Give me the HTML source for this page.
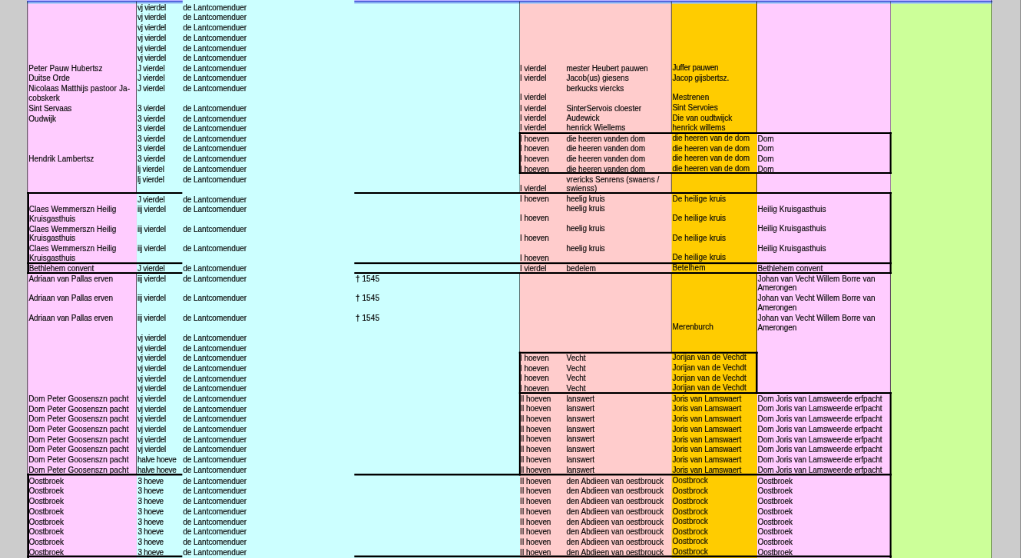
<!DOCTYPE html>
<html lang="nl"><head><meta charset="utf-8"><title>Overzicht</title>
<style>
html,body{margin:0;padding:0;background:#cccccc;}
html{overflow:hidden;}
body{width:1024px;height:558px;overflow:hidden;position:relative;}
#bg{position:absolute;left:0;top:0;width:1024px;height:558px;display:block;}
#tx{position:absolute;left:0;top:0;width:1333.3px;height:697.5px;overflow:hidden;transform:scale(0.768,0.8);transform-origin:0 0;will-change:transform;font-family:"Liberation Sans",Arial,sans-serif;font-size:10px;line-height:11px;color:#0a0a0a;}
#tx span{position:absolute;white-space:pre;-webkit-text-stroke:0.18px #0a0a0a;}
</style></head><body>
<svg id="bg" width="1024" height="558" viewBox="0 0 1024 558">
<rect x="0" y="0" width="1024" height="558" fill="#cccccc"/>
<rect x="27.3" y="0" width="109.5" height="558" fill="#ffccff"/>
<rect x="136.8" y="0" width="383.2" height="558" fill="#ccffff"/>
<rect x="520" y="0" width="151.7" height="558" fill="#ffcccc"/>
<rect x="671.7" y="0" width="85.4" height="558" fill="#ffcc00"/>
<rect x="757.1" y="0" width="133.9" height="558" fill="#ffccff"/>
<rect x="891" y="0" width="101" height="558" fill="#ccff99"/>
<rect x="1020" y="0" width="1" height="558" fill="#999999"/>
<rect x="1021" y="0" width="3" height="558" fill="#ffffff"/>
<rect x="27" y="0" width="155.7" height="1" fill="#b2aaff"/>
<rect x="27" y="1" width="155.7" height="1" fill="#5568dc"/>
<rect x="27" y="2" width="155.7" height="1" fill="#7fa8ee"/>
<rect x="27" y="3" width="155.7" height="1" fill="#9fc4f6" opacity="0.7"/>
<rect x="354.3" y="0" width="638.1" height="1" fill="#b2aaff"/>
<rect x="354.3" y="1" width="638.1" height="1" fill="#5568dc"/>
<rect x="354.3" y="2" width="638.1" height="1" fill="#7fa8ee"/>
<rect x="354.3" y="3" width="638.1" height="1" fill="#9fc4f6" opacity="0.7"/>
<rect x="27.3" y="1.5" width="0.8" height="191.5" fill="#000" opacity="0.62"/>
<rect x="27.3" y="273" width="0.8" height="201.6" fill="#000" opacity="0.62"/>
<rect x="136" y="1.5" width="0.8" height="191.5" fill="#000" opacity="0.62"/>
<rect x="136" y="273" width="0.8" height="201.6" fill="#000" opacity="0.62"/>
<rect x="519.2" y="1.5" width="0.8" height="131.6" fill="#000" opacity="0.62"/>
<rect x="519.2" y="173" width="0.8" height="20" fill="#000" opacity="0.35"/>
<rect x="519.2" y="273" width="0.8" height="79.7" fill="#000" opacity="0.62"/>
<rect x="670.9" y="1.5" width="0.8" height="131.6" fill="#000" opacity="0.62"/>
<rect x="670.9" y="173" width="0.8" height="20" fill="#000" opacity="0.62"/>
<rect x="670.9" y="273" width="0.8" height="79.7" fill="#000" opacity="0.62"/>
<rect x="756.3" y="1.5" width="0.8" height="131.6" fill="#000" opacity="0.62"/>
<rect x="756.3" y="173" width="0.8" height="20" fill="#000" opacity="0.62"/>
<rect x="756.3" y="273" width="0.8" height="79.7" fill="#000" opacity="0.62"/>
<rect x="890.2" y="1.5" width="0.8" height="131.6" fill="#000" opacity="0.45"/>
<rect x="890.2" y="173" width="0.8" height="20" fill="#000" opacity="0.45"/>
<rect x="889.95" y="273" width="1.05" height="120" fill="#000" opacity="0.62"/>
<rect x="991.2" y="0" width="0.8" height="558" fill="#000" opacity="0.45"/>
<rect x="518.9" y="132.2" width="372.6" height="1.8" fill="#000"/>
<rect x="518.9" y="172.1" width="372.6" height="1.8" fill="#000"/>
<rect x="27.2" y="192.1" width="155.1" height="1.8" fill="#000"/>
<rect x="354.3" y="192.1" width="537.2" height="1.8" fill="#000"/>
<rect x="27.2" y="262.3" width="155.1" height="1.8" fill="#000"/>
<rect x="354.3" y="262.3" width="537.2" height="1.8" fill="#000"/>
<rect x="27.2" y="272.1" width="155.1" height="1.8" fill="#000"/>
<rect x="354.3" y="272.1" width="537.2" height="1.8" fill="#000"/>
<rect x="27.2" y="473.7" width="155.1" height="1.8" fill="#000"/>
<rect x="354.3" y="473.7" width="537.2" height="1.8" fill="#000"/>
<rect x="27.2" y="555.5" width="155.1" height="1.8" fill="#000"/>
<rect x="354.3" y="555.5" width="537.2" height="1.8" fill="#000"/>
<rect x="518.9" y="351.8" width="238.7" height="1.8" fill="#000"/>
<rect x="518.9" y="392.1" width="372.6" height="1.8" fill="#000"/>
<rect x="27.2" y="192.1" width="1.8" height="81.8" fill="#000"/>
<rect x="27.2" y="473.7" width="1.8" height="84.3" fill="#000"/>
<rect x="518.9" y="132.2" width="1.8" height="41.7" fill="#000"/>
<rect x="518.9" y="351.8" width="1.8" height="123.7" fill="#000"/>
<rect x="755.8" y="351.8" width="1.8" height="42.1" fill="#000"/>
<rect x="889.7" y="132.2" width="1.8" height="41.7" fill="#000"/>
<rect x="889.7" y="192.1" width="1.8" height="81.8" fill="#000"/>
<rect x="889.7" y="392.1" width="1.8" height="165.9" fill="#000"/>
</svg>
<div id="tx">
<span style="left:37.24px;top:80px;letter-spacing:0.096px">Peter Pauw Hubertsz</span>
<span style="left:37.24px;top:92px;letter-spacing:0.032px">Duitse Orde</span>
<span style="left:37.24px;top:105px;letter-spacing:0.122px">Nicolaas Matthijs pastoor Ja-</span>
<span style="left:37.24px;top:117px;letter-spacing:0.058px">cobskerk</span>
<span style="left:37.24px;top:130px;letter-spacing:-0.065px">Sint Servaas</span>
<span style="left:37.24px;top:143px;letter-spacing:0.051px">Oudwijk</span>
<span style="left:37.24px;top:193px;letter-spacing:0.067px">Hendrik Lambertsz</span>
<span style="left:37.63px;top:256px;letter-spacing:0.082px">Claes Wemmerszn Heilig</span>
<span style="left:37.89px;top:268px;letter-spacing:0.009px">Kruisgasthuis</span>
<span style="left:37.63px;top:281px;letter-spacing:0.082px">Claes Wemmerszn Heilig</span>
<span style="left:37.89px;top:292px;letter-spacing:0.009px">Kruisgasthuis</span>
<span style="left:37.63px;top:305px;letter-spacing:0.082px">Claes Wemmerszn Heilig</span>
<span style="left:37.89px;top:317px;letter-spacing:0.009px">Kruisgasthuis</span>
<span style="left:37.63px;top:330px;letter-spacing:-0.053px">Bethlehem convent</span>
<span style="left:37.50px;top:343px;letter-spacing:-0.069px">Adriaan van Pallas erven</span>
<span style="left:37.50px;top:367px;letter-spacing:-0.069px">Adriaan van Pallas erven</span>
<span style="left:37.50px;top:392px;letter-spacing:-0.069px">Adriaan van Pallas erven</span>
<span style="left:37.24px;top:493px;letter-spacing:0.074px">Dom Peter Goosenszn pacht</span>
<span style="left:37.24px;top:506px;letter-spacing:0.074px">Dom Peter Goosenszn pacht</span>
<span style="left:37.24px;top:518px;letter-spacing:0.074px">Dom Peter Goosenszn pacht</span>
<span style="left:37.24px;top:531px;letter-spacing:0.074px">Dom Peter Goosenszn pacht</span>
<span style="left:37.24px;top:544px;letter-spacing:0.074px">Dom Peter Goosenszn pacht</span>
<span style="left:37.24px;top:556px;letter-spacing:0.074px">Dom Peter Goosenszn pacht</span>
<span style="left:37.24px;top:569px;letter-spacing:0.074px">Dom Peter Goosenszn pacht</span>
<span style="left:37.24px;top:582px;letter-spacing:0.074px">Dom Peter Goosenszn pacht</span>
<span style="left:37.50px;top:596px;letter-spacing:-0.077px">Oostbroek</span>
<span style="left:37.50px;top:608px;letter-spacing:-0.077px">Oostbroek</span>
<span style="left:37.50px;top:621px;letter-spacing:-0.077px">Oostbroek</span>
<span style="left:37.50px;top:634px;letter-spacing:-0.077px">Oostbroek</span>
<span style="left:37.50px;top:647px;letter-spacing:-0.077px">Oostbroek</span>
<span style="left:37.50px;top:659px;letter-spacing:-0.077px">Oostbroek</span>
<span style="left:37.50px;top:672px;letter-spacing:-0.077px">Oostbroek</span>
<span style="left:37.50px;top:685px;letter-spacing:-0.077px">Oostbroek</span>
<span style="left:178.91px;top:4px;letter-spacing:-0.231px">vj vierdel</span>
<span style="left:178.91px;top:16px;letter-spacing:-0.231px">vj vierdel</span>
<span style="left:178.91px;top:29px;letter-spacing:-0.231px">vj vierdel</span>
<span style="left:178.91px;top:42px;letter-spacing:-0.231px">vj vierdel</span>
<span style="left:178.91px;top:55px;letter-spacing:-0.231px">vj vierdel</span>
<span style="left:178.91px;top:67px;letter-spacing:-0.231px">vj vierdel</span>
<span style="left:178.91px;top:80px;letter-spacing:-0.185px">J vierdel</span>
<span style="left:178.91px;top:92px;letter-spacing:-0.185px">J vierdel</span>
<span style="left:178.91px;top:105px;letter-spacing:-0.185px">J vierdel</span>
<span style="left:178.91px;top:130px;letter-spacing:-0.185px">3 vierdel</span>
<span style="left:178.91px;top:143px;letter-spacing:-0.185px">3 vierdel</span>
<span style="left:178.91px;top:155px;letter-spacing:-0.185px">3 vierdel</span>
<span style="left:178.91px;top:168px;letter-spacing:-0.185px">3 vierdel</span>
<span style="left:178.91px;top:180px;letter-spacing:-0.185px">3 vierdel</span>
<span style="left:178.91px;top:193px;letter-spacing:-0.185px">3 vierdel</span>
<span style="left:178.91px;top:206px;letter-spacing:-0.185px">lj vierdel</span>
<span style="left:178.91px;top:219px;letter-spacing:-0.185px">lj vierdel</span>
<span style="left:178.91px;top:244px;letter-spacing:-0.185px">J vierdel</span>
<span style="left:178.91px;top:256px;letter-spacing:-0.185px">iij vierdel</span>
<span style="left:178.91px;top:281px;letter-spacing:-0.185px">iij vierdel</span>
<span style="left:178.91px;top:305px;letter-spacing:-0.185px">iij vierdel</span>
<span style="left:178.91px;top:330px;letter-spacing:-0.185px">J vierdel</span>
<span style="left:178.91px;top:343px;letter-spacing:-0.185px">iij vierdel</span>
<span style="left:178.91px;top:367px;letter-spacing:-0.185px">iij vierdel</span>
<span style="left:178.91px;top:392px;letter-spacing:-0.185px">iij vierdel</span>
<span style="left:178.91px;top:417px;letter-spacing:-0.231px">vj vierdel</span>
<span style="left:178.91px;top:430px;letter-spacing:-0.231px">vj vierdel</span>
<span style="left:178.91px;top:442px;letter-spacing:-0.231px">vj vierdel</span>
<span style="left:178.91px;top:455px;letter-spacing:-0.231px">vj vierdel</span>
<span style="left:178.91px;top:468px;letter-spacing:-0.231px">vj vierdel</span>
<span style="left:178.91px;top:480px;letter-spacing:-0.231px">vj vierdel</span>
<span style="left:178.91px;top:493px;letter-spacing:-0.231px">vj vierdel</span>
<span style="left:178.91px;top:506px;letter-spacing:-0.231px">vj vierdel</span>
<span style="left:178.91px;top:518px;letter-spacing:-0.231px">vj vierdel</span>
<span style="left:178.91px;top:531px;letter-spacing:-0.231px">vj vierdel</span>
<span style="left:178.91px;top:544px;letter-spacing:-0.231px">vj vierdel</span>
<span style="left:178.91px;top:556px;letter-spacing:-0.231px">vj vierdel</span>
<span style="left:178.91px;top:569px;letter-spacing:-0.303px">halve hoeve</span>
<span style="left:178.91px;top:582px;letter-spacing:-0.303px">halve hoeve</span>
<span style="left:179.43px;top:596px;letter-spacing:-0.307px">3 hoeve</span>
<span style="left:179.43px;top:608px;letter-spacing:-0.307px">3 hoeve</span>
<span style="left:179.43px;top:621px;letter-spacing:-0.307px">3 hoeve</span>
<span style="left:179.43px;top:634px;letter-spacing:-0.307px">3 hoeve</span>
<span style="left:179.43px;top:647px;letter-spacing:-0.307px">3 hoeve</span>
<span style="left:179.43px;top:659px;letter-spacing:-0.307px">3 hoeve</span>
<span style="left:179.43px;top:672px;letter-spacing:-0.307px">3 hoeve</span>
<span style="left:179.43px;top:685px;letter-spacing:-0.307px">3 hoeve</span>
<span style="left:238.28px;top:4px;letter-spacing:-0.035px">de Lantcomenduer</span>
<span style="left:238.28px;top:16px;letter-spacing:-0.035px">de Lantcomenduer</span>
<span style="left:238.28px;top:29px;letter-spacing:-0.035px">de Lantcomenduer</span>
<span style="left:238.28px;top:42px;letter-spacing:-0.035px">de Lantcomenduer</span>
<span style="left:238.28px;top:55px;letter-spacing:-0.035px">de Lantcomenduer</span>
<span style="left:238.28px;top:67px;letter-spacing:-0.035px">de Lantcomenduer</span>
<span style="left:238.28px;top:80px;letter-spacing:-0.035px">de Lantcomenduer</span>
<span style="left:238.28px;top:92px;letter-spacing:-0.035px">de Lantcomenduer</span>
<span style="left:238.28px;top:105px;letter-spacing:-0.035px">de Lantcomenduer</span>
<span style="left:238.28px;top:130px;letter-spacing:-0.035px">de Lantcomenduer</span>
<span style="left:238.28px;top:143px;letter-spacing:-0.035px">de Lantcomenduer</span>
<span style="left:238.28px;top:155px;letter-spacing:-0.035px">de Lantcomenduer</span>
<span style="left:238.28px;top:168px;letter-spacing:-0.035px">de Lantcomenduer</span>
<span style="left:238.28px;top:180px;letter-spacing:-0.035px">de Lantcomenduer</span>
<span style="left:238.28px;top:193px;letter-spacing:-0.035px">de Lantcomenduer</span>
<span style="left:238.28px;top:206px;letter-spacing:-0.035px">de Lantcomenduer</span>
<span style="left:238.28px;top:219px;letter-spacing:-0.035px">de Lantcomenduer</span>
<span style="left:238.28px;top:244px;letter-spacing:-0.035px">de Lantcomenduer</span>
<span style="left:238.28px;top:256px;letter-spacing:-0.035px">de Lantcomenduer</span>
<span style="left:238.28px;top:281px;letter-spacing:-0.035px">de Lantcomenduer</span>
<span style="left:238.28px;top:305px;letter-spacing:-0.035px">de Lantcomenduer</span>
<span style="left:238.28px;top:330px;letter-spacing:-0.035px">de Lantcomenduer</span>
<span style="left:238.28px;top:343px;letter-spacing:-0.035px">de Lantcomenduer</span>
<span style="left:238.28px;top:367px;letter-spacing:-0.035px">de Lantcomenduer</span>
<span style="left:238.28px;top:392px;letter-spacing:-0.035px">de Lantcomenduer</span>
<span style="left:238.28px;top:417px;letter-spacing:-0.035px">de Lantcomenduer</span>
<span style="left:238.28px;top:430px;letter-spacing:-0.035px">de Lantcomenduer</span>
<span style="left:238.28px;top:442px;letter-spacing:-0.035px">de Lantcomenduer</span>
<span style="left:238.28px;top:455px;letter-spacing:-0.035px">de Lantcomenduer</span>
<span style="left:238.28px;top:468px;letter-spacing:-0.035px">de Lantcomenduer</span>
<span style="left:238.28px;top:480px;letter-spacing:-0.035px">de Lantcomenduer</span>
<span style="left:238.28px;top:493px;letter-spacing:-0.035px">de Lantcomenduer</span>
<span style="left:238.28px;top:506px;letter-spacing:-0.035px">de Lantcomenduer</span>
<span style="left:238.28px;top:518px;letter-spacing:-0.035px">de Lantcomenduer</span>
<span style="left:238.28px;top:531px;letter-spacing:-0.035px">de Lantcomenduer</span>
<span style="left:238.28px;top:544px;letter-spacing:-0.035px">de Lantcomenduer</span>
<span style="left:238.28px;top:556px;letter-spacing:-0.035px">de Lantcomenduer</span>
<span style="left:238.28px;top:569px;letter-spacing:-0.035px">de Lantcomenduer</span>
<span style="left:238.28px;top:582px;letter-spacing:-0.035px">de Lantcomenduer</span>
<span style="left:238.28px;top:596px;letter-spacing:-0.035px">de Lantcomenduer</span>
<span style="left:238.28px;top:608px;letter-spacing:-0.035px">de Lantcomenduer</span>
<span style="left:238.28px;top:621px;letter-spacing:-0.035px">de Lantcomenduer</span>
<span style="left:238.28px;top:634px;letter-spacing:-0.035px">de Lantcomenduer</span>
<span style="left:238.28px;top:647px;letter-spacing:-0.035px">de Lantcomenduer</span>
<span style="left:238.28px;top:659px;letter-spacing:-0.035px">de Lantcomenduer</span>
<span style="left:238.28px;top:672px;letter-spacing:-0.035px">de Lantcomenduer</span>
<span style="left:238.28px;top:685px;letter-spacing:-0.035px">de Lantcomenduer</span>
<span style="left:462.89px;top:343px;letter-spacing:0.108px">† 1545</span>
<span style="left:462.89px;top:367px;letter-spacing:0.108px">† 1545</span>
<span style="left:462.89px;top:392px;letter-spacing:0.108px">† 1545</span>
<span style="left:677.08px;top:80px;letter-spacing:-0.075px">I vierdel</span>
<span style="left:677.08px;top:92px;letter-spacing:-0.075px">I vierdel</span>
<span style="left:677.08px;top:116px;letter-spacing:-0.075px">I vierdel</span>
<span style="left:677.08px;top:130px;letter-spacing:-0.075px">I vierdel</span>
<span style="left:677.08px;top:142px;letter-spacing:-0.075px">I vierdel</span>
<span style="left:677.08px;top:154px;letter-spacing:-0.075px">I vierdel</span>
<span style="left:677.08px;top:168px;letter-spacing:-0.101px">I hoeven</span>
<span style="left:677.08px;top:180px;letter-spacing:-0.101px">I hoeven</span>
<span style="left:677.08px;top:193px;letter-spacing:-0.101px">I hoeven</span>
<span style="left:677.08px;top:206px;letter-spacing:-0.101px">I hoeven</span>
<span style="left:677.08px;top:230px;letter-spacing:-0.075px">I vierdel</span>
<span style="left:677.08px;top:243px;letter-spacing:-0.101px">I hoeven</span>
<span style="left:677.08px;top:267px;letter-spacing:-0.101px">I hoeven</span>
<span style="left:677.08px;top:292px;letter-spacing:-0.101px">I hoeven</span>
<span style="left:677.08px;top:317px;letter-spacing:-0.101px">I hoeven</span>
<span style="left:677.08px;top:330px;letter-spacing:-0.075px">I vierdel</span>
<span style="left:677.08px;top:442px;letter-spacing:-0.101px">I hoeven</span>
<span style="left:677.08px;top:455px;letter-spacing:-0.101px">I hoeven</span>
<span style="left:677.08px;top:467px;letter-spacing:-0.101px">I hoeven</span>
<span style="left:677.08px;top:480px;letter-spacing:-0.101px">I hoeven</span>
<span style="left:677.08px;top:493px;letter-spacing:-0.100px">II hoeven</span>
<span style="left:677.08px;top:505px;letter-spacing:-0.100px">II hoeven</span>
<span style="left:677.08px;top:518px;letter-spacing:-0.100px">II hoeven</span>
<span style="left:677.08px;top:531px;letter-spacing:-0.100px">II hoeven</span>
<span style="left:677.08px;top:543px;letter-spacing:-0.100px">II hoeven</span>
<span style="left:677.08px;top:556px;letter-spacing:-0.100px">II hoeven</span>
<span style="left:677.08px;top:569px;letter-spacing:-0.100px">II hoeven</span>
<span style="left:677.08px;top:582px;letter-spacing:-0.100px">II hoeven</span>
<span style="left:677.08px;top:596px;letter-spacing:-0.100px">II hoeven</span>
<span style="left:677.08px;top:608px;letter-spacing:-0.100px">II hoeven</span>
<span style="left:677.08px;top:621px;letter-spacing:-0.100px">II hoeven</span>
<span style="left:677.08px;top:634px;letter-spacing:-0.100px">II hoeven</span>
<span style="left:677.08px;top:647px;letter-spacing:-0.100px">II hoeven</span>
<span style="left:677.08px;top:659px;letter-spacing:-0.100px">II hoeven</span>
<span style="left:677.08px;top:672px;letter-spacing:-0.100px">II hoeven</span>
<span style="left:677.08px;top:685px;letter-spacing:-0.100px">II hoeven</span>
<span style="left:737.50px;top:80px;letter-spacing:-0.027px">mester Heubert pauwen</span>
<span style="left:737.50px;top:92px">Jacob(us) giesens</span>
<span style="left:737.50px;top:105px;letter-spacing:0.055px">berkucks viercks</span>
<span style="left:737.50px;top:130px;letter-spacing:0.015px">SinterServois cloester</span>
<span style="left:737.50px;top:142px;letter-spacing:0.037px">Audewick</span>
<span style="left:737.50px;top:154px;letter-spacing:0.083px">henrick Wiellems</span>
<span style="left:737.50px;top:168px;letter-spacing:-0.129px">die heeren vanden dom</span>
<span style="left:737.50px;top:180px;letter-spacing:-0.129px">die heeren vanden dom</span>
<span style="left:737.50px;top:193px;letter-spacing:-0.129px">die heeren vanden dom</span>
<span style="left:737.50px;top:206px;letter-spacing:-0.129px">die heeren vanden dom</span>
<span style="left:737.50px;top:219px;letter-spacing:0.032px">vrericks Senrens (swaens /</span>
<span style="left:737.50px;top:230px;letter-spacing:0.125px">swienss)</span>
<span style="left:737.50px;top:243px;letter-spacing:-0.046px">heelig kruis</span>
<span style="left:737.50px;top:255px;letter-spacing:-0.046px">heelig kruis</span>
<span style="left:737.50px;top:280px;letter-spacing:-0.046px">heelig kruis</span>
<span style="left:737.50px;top:305px;letter-spacing:-0.046px">heelig kruis</span>
<span style="left:737.50px;top:330px;letter-spacing:0.011px">bedelem</span>
<span style="left:737.50px;top:442px;letter-spacing:0.011px">Vecht</span>
<span style="left:737.50px;top:455px;letter-spacing:0.011px">Vecht</span>
<span style="left:737.50px;top:467px;letter-spacing:0.011px">Vecht</span>
<span style="left:737.50px;top:480px;letter-spacing:0.011px">Vecht</span>
<span style="left:737.50px;top:493px;letter-spacing:-0.115px">lanswert</span>
<span style="left:737.50px;top:505px;letter-spacing:-0.115px">lanswert</span>
<span style="left:737.50px;top:518px;letter-spacing:-0.115px">lanswert</span>
<span style="left:737.50px;top:531px;letter-spacing:-0.115px">lanswert</span>
<span style="left:737.50px;top:543px;letter-spacing:-0.115px">lanswert</span>
<span style="left:737.50px;top:556px;letter-spacing:-0.115px">lanswert</span>
<span style="left:737.50px;top:569px;letter-spacing:-0.115px">lanswert</span>
<span style="left:737.50px;top:582px;letter-spacing:-0.115px">lanswert</span>
<span style="left:737.50px;top:596px;letter-spacing:0.010px">den Abdieen van oestbrouck</span>
<span style="left:737.50px;top:608px;letter-spacing:0.010px">den Abdieen van oestbrouck</span>
<span style="left:737.50px;top:621px;letter-spacing:0.010px">den Abdieen van oestbrouck</span>
<span style="left:737.50px;top:634px;letter-spacing:0.010px">den Abdieen van oestbrouck</span>
<span style="left:737.50px;top:647px;letter-spacing:0.010px">den Abdieen van oestbrouck</span>
<span style="left:737.50px;top:659px;letter-spacing:0.010px">den Abdieen van oestbrouck</span>
<span style="left:737.50px;top:672px;letter-spacing:0.010px">den Abdieen van oestbrouck</span>
<span style="left:737.50px;top:685px;letter-spacing:0.010px">den Abdieen van oestbrouck</span>
<span style="left:875.39px;top:79px;letter-spacing:-0.200px">Juffer pauwen</span>
<span style="left:875.39px;top:92px;letter-spacing:-0.036px">Jacop gijsbertsz.</span>
<span style="left:875.39px;top:116px;letter-spacing:0.072px">Mestrenen</span>
<span style="left:875.39px;top:129px;letter-spacing:0.032px">Sint Servoies</span>
<span style="left:875.39px;top:142px">Die van oudtwijck</span>
<span style="left:875.39px;top:154px;letter-spacing:0.095px">henrick willems</span>
<span style="left:875.39px;top:167px;letter-spacing:-0.085px">die heeren van de dom</span>
<span style="left:875.39px;top:180px;letter-spacing:-0.085px">die heeren van de dom</span>
<span style="left:875.39px;top:192px;letter-spacing:-0.085px">die heeren van de dom</span>
<span style="left:875.39px;top:205px;letter-spacing:-0.085px">die heeren van de dom</span>
<span style="left:875.39px;top:243px;letter-spacing:0.092px">De heilige kruis</span>
<span style="left:875.39px;top:267px;letter-spacing:0.092px">De heilige kruis</span>
<span style="left:875.39px;top:292px;letter-spacing:0.092px">De heilige kruis</span>
<span style="left:875.39px;top:316px;letter-spacing:0.092px">De heilige kruis</span>
<span style="left:875.39px;top:329px;letter-spacing:0.129px">Betelhem</span>
<span style="left:875.39px;top:403px;letter-spacing:0.010px">Merenburch</span>
<span style="left:875.39px;top:441px;letter-spacing:0.043px">Jorijan van de Vechdt</span>
<span style="left:875.39px;top:454px;letter-spacing:0.043px">Jorijan van de Vechdt</span>
<span style="left:875.39px;top:467px;letter-spacing:0.043px">Jorijan van de Vechdt</span>
<span style="left:875.39px;top:479px;letter-spacing:0.043px">Jorijan van de Vechdt</span>
<span style="left:875.39px;top:493px;letter-spacing:-0.102px">Joris van Lamswaert</span>
<span style="left:875.39px;top:505px;letter-spacing:-0.102px">Joris van Lamswaert</span>
<span style="left:875.39px;top:518px;letter-spacing:-0.102px">Joris van Lamswaert</span>
<span style="left:875.39px;top:531px;letter-spacing:-0.102px">Joris van Lamswaert</span>
<span style="left:875.39px;top:544px;letter-spacing:-0.102px">Joris van Lamswaert</span>
<span style="left:875.39px;top:556px;letter-spacing:-0.102px">Joris van Lamswaert</span>
<span style="left:875.39px;top:569px;letter-spacing:-0.102px">Joris van Lamswaert</span>
<span style="left:875.39px;top:582px;letter-spacing:-0.102px">Joris van Lamswaert</span>
<span style="left:875.39px;top:595px;letter-spacing:0.108px">Oostbrock</span>
<span style="left:875.39px;top:608px;letter-spacing:0.108px">Oostbrock</span>
<span style="left:875.39px;top:621px;letter-spacing:0.108px">Oostbrock</span>
<span style="left:875.39px;top:634px;letter-spacing:0.108px">Oostbrock</span>
<span style="left:875.39px;top:646px;letter-spacing:0.108px">Oostbrock</span>
<span style="left:875.39px;top:659px;letter-spacing:0.108px">Oostbrock</span>
<span style="left:875.39px;top:671px;letter-spacing:0.108px">Oostbrock</span>
<span style="left:875.39px;top:684px;letter-spacing:0.108px">Oostbrock</span>
<span style="left:986.46px;top:168px;letter-spacing:0.017px">Dom</span>
<span style="left:986.46px;top:180px;letter-spacing:0.017px">Dom</span>
<span style="left:986.46px;top:193px;letter-spacing:0.017px">Dom</span>
<span style="left:986.46px;top:206px;letter-spacing:0.017px">Dom</span>
<span style="left:986.46px;top:256px;letter-spacing:0.066px">Heilig Kruisgasthuis</span>
<span style="left:986.46px;top:280px;letter-spacing:0.066px">Heilig Kruisgasthuis</span>
<span style="left:986.46px;top:305px;letter-spacing:0.066px">Heilig Kruisgasthuis</span>
<span style="left:986.46px;top:330px;letter-spacing:-0.053px">Bethlehem convent</span>
<span style="left:986.46px;top:343px;letter-spacing:0.008px">Johan van Vecht Willem Borre van</span>
<span style="left:986.46px;top:354px;letter-spacing:-0.112px">Amerongen</span>
<span style="left:986.46px;top:367px;letter-spacing:0.008px">Johan van Vecht Willem Borre van</span>
<span style="left:986.46px;top:379px;letter-spacing:-0.112px">Amerongen</span>
<span style="left:986.46px;top:392px;letter-spacing:0.008px">Johan van Vecht Willem Borre van</span>
<span style="left:986.46px;top:404px;letter-spacing:-0.112px">Amerongen</span>
<span style="left:986.46px;top:493px;letter-spacing:-0.026px">Dom Joris van Lamsweerde erfpacht</span>
<span style="left:986.46px;top:505px;letter-spacing:-0.026px">Dom Joris van Lamsweerde erfpacht</span>
<span style="left:986.46px;top:518px;letter-spacing:-0.026px">Dom Joris van Lamsweerde erfpacht</span>
<span style="left:986.46px;top:531px;letter-spacing:-0.026px">Dom Joris van Lamsweerde erfpacht</span>
<span style="left:986.46px;top:544px;letter-spacing:-0.026px">Dom Joris van Lamsweerde erfpacht</span>
<span style="left:986.46px;top:556px;letter-spacing:-0.026px">Dom Joris van Lamsweerde erfpacht</span>
<span style="left:986.46px;top:569px;letter-spacing:-0.026px">Dom Joris van Lamsweerde erfpacht</span>
<span style="left:986.46px;top:582px;letter-spacing:-0.026px">Dom Joris van Lamsweerde erfpacht</span>
<span style="left:986.46px;top:596px;letter-spacing:-0.077px">Oostbroek</span>
<span style="left:986.46px;top:608px;letter-spacing:-0.077px">Oostbroek</span>
<span style="left:986.46px;top:621px;letter-spacing:-0.077px">Oostbroek</span>
<span style="left:986.46px;top:634px;letter-spacing:-0.077px">Oostbroek</span>
<span style="left:986.46px;top:647px;letter-spacing:-0.077px">Oostbroek</span>
<span style="left:986.46px;top:659px;letter-spacing:-0.077px">Oostbroek</span>
<span style="left:986.46px;top:672px;letter-spacing:-0.077px">Oostbroek</span>
<span style="left:986.46px;top:685px;letter-spacing:-0.077px">Oostbroek</span>
</div>
</body></html>
